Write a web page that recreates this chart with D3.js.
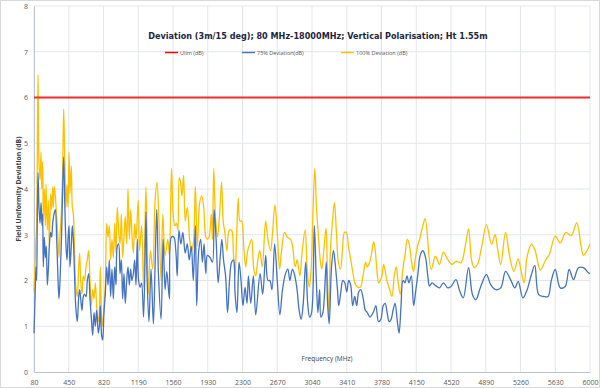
<!DOCTYPE html>
<html>
<head>
<meta charset="utf-8">
<script src="https://cdn.jsdelivr.net/npm/d3@7"></script>
<style>
  body { margin: 0; background: #fff; }
  text { font-family: "Open Sans", "Liberation Sans", sans-serif; }
</style>
</head>
<body>
<div id="chart"></div>
<script>
const title = 'Deviation (3m/15 deg); 80 MHz-18000MHz; Vertical Polarisation; Ht 1.55m';
const seriesNames = ['Ulim (dB)', '75% Deviation(dB)', '100% Deviation (dB)'];
const xTicks = [80, 450, 820, 1190, 1560, 1930, 2300, 2670, 3040, 3410, 3780, 4150, 4520, 4890, 5260, 5630, 6000];
const yTicks = [0, 1, 2, 3, 4, 5, 6, 7, 8];

const ulimFreq = [80, 6000];
const ulim = [6, 6];

const freq100 = [80, 91, 101, 108, 115, 123, 133, 144, 155, 162, 172, 179, 190, 201, 208, 222, 233, 243, 257, 268,
  279, 286, 296, 307, 321, 336, 346, 357, 371, 385, 396, 407, 421, 431, 442, 453, 463, 477, 488, 499,
  509, 524, 541, 556, 566, 577, 591, 605, 619, 634, 648, 662, 676, 690, 705, 719, 733, 747, 765, 776,
  786, 800, 811, 825, 839, 854, 868, 882, 896, 910, 925, 939, 953, 967, 981, 996, 1010, 1024, 1038, 1052,
  1067, 1081, 1095, 1109, 1123, 1138, 1152, 1166, 1190, 1204, 1226, 1247, 1272, 1297, 1319, 1344, 1369, 1390, 1412, 1433,
  1451, 1476, 1505, 1522, 1544, 1562, 1580, 1598, 1612, 1626, 1640, 1655, 1673, 1690, 1712, 1737, 1755, 1776, 1798, 1819,
  1844, 1866, 1887, 1909, 1926, 1944, 1969, 1980, 1994, 2012, 2034, 2055, 2077, 2094, 2112, 2134, 2159, 2184, 2202, 2220,
  2237, 2255, 2273, 2291, 2313, 2334, 2355, 2377, 2398, 2420, 2441, 2463, 2484, 2511, 2546, 2571, 2599, 2620, 2645, 2670,
  2695, 2716, 2748, 2776, 2812, 2833, 2861, 2882, 2911, 2936, 2967, 2989, 3010, 3031, 3052, 3070, 3088, 3109, 3130, 3144,
  3165, 3190, 3204, 3219, 3236, 3258, 3279, 3300, 3321, 3343, 3364, 3385, 3406, 3428, 3449, 3477, 3505, 3534, 3555, 3583,
  3612, 3626, 3654, 3679, 3697, 3714, 3732, 3750, 3767, 3785, 3803, 3838, 3867, 3891, 3916, 3937, 3955, 3980, 4008, 4033,
  4054, 4075, 4100, 4121, 4142, 4164, 4192, 4221, 4245, 4309, 4354, 4397, 4439, 4485, 4531, 4573, 4626, 4672, 4707, 4738,
  4767, 4802, 4848, 4897, 4953, 4989, 5017, 5049, 5101, 5144, 5190, 5235, 5267, 5299, 5331, 5376, 5412, 5471, 5531, 5567,
  5630, 5683, 5743, 5799, 5859, 5905, 5930, 5965, 6000];
const dev100 = [1.75, 2.3, 2.9, 3.25, 4.7, 6.5, 4.55, 4.2, 4.8, 4.0, 4.6, 3.3, 4.0, 3.2, 4.1, 3.1, 3.75, 2.75, 3.9, 3.55,
  4.05, 3.6, 4.05, 3.85, 3.4, 2.9, 2.5, 3.0, 3.45, 4.4, 5.75, 4.7, 3.6, 4.1, 3.6, 4.8, 3.9, 4.5, 3.6, 3.45,
  2.9, 1.9, 1.65, 2.3, 2.6, 2.0, 1.7, 2.1, 2.0, 2.3, 2.45, 2.65, 2.0, 1.45, 1.8, 1.6, 1.95, 1.45, 1.1, 1.3,
  2.3, 1.2, 1.0, 1.45, 1.9, 3.25, 2.95, 3.2, 2.45, 2.9, 2.5, 3.25, 2.6, 3.6, 3.1, 2.8, 3.45, 2.5, 2.95, 3.4,
  2.8, 4.0, 2.9, 3.55, 3.0, 2.6, 3.25, 2.9, 3.75, 2.65, 3.2, 1.85, 4.05, 1.7, 2.65, 2.25, 3.75, 4.15, 3.2, 2.0,
  3.45, 2.55, 2.9, 2.55, 4.45, 3.45, 3.2, 3.25, 3.1, 4.25, 4.15, 3.85, 4.3, 3.3, 3.6, 2.9, 2.65, 2.8, 4.05, 2.75,
  3.7, 3.85, 3.6, 2.95, 2.9, 2.95, 3.45, 2.9, 4.45, 3.4, 2.95, 3.4, 4.15, 3.3, 3.05, 2.65, 3.1, 3.1, 2.65, 2.1,
  2.95, 3.8, 3.3, 3.3, 2.75, 2.3, 2.65, 2.8, 2.9, 2.25, 2.1, 2.45, 2.65, 2.3, 3.3, 2.9, 2.65, 3.05, 3.65, 3.05,
  2.25, 2.65, 3.05, 2.95, 2.9, 2.75, 2.3, 2.45, 2.1, 2.65, 3.1, 2.25, 1.85, 2.25, 3.6, 4.45, 3.6, 2.95, 2.4, 2.25,
  2.65, 3.15, 2.1, 1.25, 2.65, 3.3, 3.7, 3.05, 2.4, 2.25, 2.65, 3.05, 3.05, 2.75, 2.5, 2.15, 1.9, 1.85, 1.85, 2.1,
  2.4, 2.3, 2.4, 2.65, 2.85, 2.65, 2.2, 1.95, 2.0, 2.1, 2.35, 2.0, 1.8, 1.65, 2.1, 2.3, 2.0, 1.7, 2.25, 2.6,
  2.9, 2.8, 2.4, 2.2, 2.5, 2.75, 2.95, 3.2, 3.35, 2.24, 2.53, 2.35, 2.62, 2.46, 2.35, 2.42, 2.39, 2.75, 3.13, 2.46,
  2.28, 2.35, 2.75, 3.22, 2.79, 3.0, 2.68, 2.35, 3.05, 2.53, 2.2, 2.47, 2.2, 1.95, 2.53, 2.79, 2.68, 2.23, 2.46, 2.57,
  2.97, 2.82, 3.05, 2.98, 3.26, 2.75, 2.55, 2.64, 2.79];

const freq75 = [80, 91, 101, 108, 115, 123, 133, 144, 155, 165, 172, 179, 190, 201, 211, 222, 233, 243, 257, 268,
  279, 293, 307, 321, 336, 346, 357, 371, 385, 396, 407, 421, 431, 442, 453, 463, 477, 488, 499, 509,
  524, 541, 556, 566, 577, 591, 605, 619, 634, 648, 662, 676, 690, 705, 719, 733, 747, 765, 776, 786,
  800, 811, 825, 839, 854, 868, 882, 896, 910, 925, 939, 953, 967, 981, 996, 1010, 1024, 1038, 1052, 1067,
  1081, 1095, 1109, 1123, 1138, 1152, 1166, 1180, 1194, 1211, 1226, 1247, 1272, 1283, 1304, 1326, 1351, 1369, 1387, 1405,
  1433, 1455, 1476, 1494, 1522, 1544, 1569, 1590, 1605, 1623, 1644, 1665, 1690, 1712, 1733, 1755, 1776, 1798, 1812, 1834,
  1855, 1873, 1891, 1909, 1926, 1955, 1980, 1998, 2019, 2041, 2062, 2080, 2098, 2120, 2141, 2162, 2184, 2205, 2220, 2241,
  2263, 2284, 2305, 2327, 2348, 2363, 2388, 2416, 2441, 2487, 2515, 2547, 2571, 2592, 2614, 2642, 2670, 2698, 2726, 2758,
  2783, 2804, 2832, 2857, 2881, 2903, 2924, 2945, 2973, 2994, 3015, 3036, 3065, 3086, 3103, 3121, 3135, 3156, 3170, 3192,
  3206, 3223, 3248, 3269, 3290, 3311, 3325, 3347, 3368, 3389, 3410, 3431, 3452, 3473, 3495, 3516, 3537, 3558, 3586, 3607,
  3629, 3657, 3692, 3720, 3748, 3773, 3798, 3819, 3840, 3861, 3882, 3903, 3925, 3946, 3967, 3988, 4009, 4030, 4051, 4073,
  4097, 4122, 4143, 4168, 4192, 4221, 4249, 4273, 4291, 4319, 4354, 4397, 4439, 4485, 4520, 4573, 4608, 4650, 4707, 4749,
  4784, 4837, 4897, 4943, 4996, 5049, 5101, 5154, 5200, 5235, 5285, 5331, 5376, 5412, 5454, 5507, 5553, 5588, 5630, 5683,
  5736, 5778, 5824, 5877, 5930, 5983, 6000];
const dev75 = [0.85, 1.6, 2.3, 2.0, 3.3, 4.35, 3.6, 3.25, 3.7, 3.2, 3.45, 2.3, 2.95, 2.5, 2.75, 1.9, 2.25, 2.75, 3.05, 2.95,
  3.25, 3.45, 3.55, 2.95, 2.0, 1.6, 2.0, 2.8, 4.0, 4.7, 3.75, 2.75, 2.45, 2.9, 3.2, 2.3, 2.75, 3.2, 2.9, 2.3,
  1.45, 1.1, 1.65, 1.8, 1.6, 1.35, 1.65, 1.7, 1.65, 2.0, 2.15, 1.6, 1.2, 0.8, 1.3, 1.0, 1.35, 0.85, 1.0, 1.45,
  0.8, 0.7, 1.3, 1.7, 2.3, 1.9, 2.45, 1.65, 2.25, 1.6, 2.3, 1.9, 2.75, 2.8, 2.15, 2.45, 1.6, 2.15, 1.5, 2.0,
  2.3, 1.9, 2.25, 2.0, 2.15, 2.45, 1.9, 2.9, 2.0, 1.85, 1.95, 1.2, 3.5, 2.15, 1.1, 2.25, 1.05, 2.3, 3.55, 2.15,
  1.15, 2.9, 1.8, 2.2, 1.6, 2.95, 2.95, 2.65, 2.1, 3.1, 2.8, 3.05, 2.6, 2.8, 2.45, 2.75, 2.0, 3.2, 1.45, 2.65,
  2.9, 2.4, 2.8, 2.15, 2.55, 2.5, 2.4, 3.55, 2.9, 1.95, 2.5, 2.9, 2.45, 2.1, 1.3, 2.0, 2.4, 2.45, 1.75, 1.3,
  2.4, 2.0, 1.45, 1.85, 1.5, 2.1, 1.5, 2.1, 1.25, 2.15, 1.7, 2.55, 2.0, 2.0, 1.8, 2.8, 2.0, 1.25, 1.8, 2.15,
  2.25, 2.0, 2.25, 2.1, 1.8, 1.35, 1.15, 1.45, 2.4, 1.5, 1.2, 1.3, 3.2, 2.0, 1.3, 1.8, 1.2, 1.3, 1.6, 2.4,
  1.5, 1.05, 2.3, 2.65, 2.3, 1.8, 1.45, 1.75, 2.0, 1.95, 1.75, 2.0, 1.9, 1.45, 1.65, 1.45, 1.75, 1.8, 1.6, 1.35,
  1.3, 1.2, 1.3, 1.45, 1.1, 1.15, 1.45, 1.5, 1.3, 1.1, 1.15, 1.35, 1.5, 1.15, 0.85, 1.45, 2.0, 1.95, 2.1, 1.95,
  2.1, 1.45, 1.75, 2.15, 2.55, 2.65, 2.5, 2.1, 1.88, 1.95, 1.89, 1.84, 1.95, 1.84, 1.87, 2.02, 1.8, 1.62, 2.28, 1.69,
  1.58, 1.87, 2.13, 1.91, 1.8, 1.84, 2.2, 2.02, 1.84, 1.98, 1.62, 1.8, 2.13, 2.33, 1.69, 1.65, 1.65, 2.0, 2.24, 1.84,
  1.87, 2.24, 2.02, 2.28, 2.28, 2.17, 2.15];

const width = 600;
const height = 388;
const margin = { top: 6, right: 10, bottom: 16, left: 34 };

const svg = d3.select('#chart')
  .append('svg')
  .attr('width', width)
  .attr('height', height);

// chart border
svg.append('rect')
  .attr('x', 0.5).attr('y', 0.5)
  .attr('width', width - 1).attr('height', height - 1)
  .attr('fill', 'none')
  .attr('stroke', '#d9d9d9');

const x = d3.scaleLinear()
  .domain([80, 6000])
  .range([margin.left, width - margin.right]);

const y = d3.scaleLinear()
  .domain([0, 8])
  .range([height - margin.bottom, margin.top]);

// gridlines
svg.append('g')
  .selectAll('line')
  .data(xTicks)
  .join('line')
  .attr('x1', d => x(d)).attr('x2', d => x(d))
  .attr('y1', y(0)).attr('y2', y(8))
  .attr('stroke', '#e4e6ee')
  .attr('stroke-width', 1);

svg.append('g')
  .selectAll('line')
  .data(yTicks.slice(1))
  .join('line')
  .attr('x1', x(80)).attr('x2', x(6000))
  .attr('y1', d => y(d)).attr('y2', d => y(d))
  .attr('stroke', '#e4e6ee')
  .attr('stroke-width', 1);

// axes
const xAxis = svg.append('g')
  .attr('transform', `translate(0, ${y(0)})`)
  .call(d3.axisBottom(x).tickValues(xTicks).tickSize(0).tickPadding(8).tickFormat(d3.format('d')));
xAxis.select('.domain').attr('stroke', '#bfc3d0');
xAxis.selectAll('text').attr('fill', '#595959').attr('font-size', 7);

const yAxis = svg.append('g')
  .attr('transform', `translate(${margin.left}, 0)`)
  .call(d3.axisLeft(y).tickValues(yTicks).tickSize(0).tickPadding(6));
yAxis.select('.domain').attr('stroke', '#bfc3d0');
yAxis.selectAll('text').attr('fill', '#595959').attr('font-size', 7);

// series
const line = d3.line()
  .x(d => x(d[0]))
  .y(d => y(d[1]))
  .curve(d3.curveCatmullRom.alpha(0.5));

svg.append('path')
  .datum(d3.zip(freq100, dev100))
  .attr('fill', 'none')
  .attr('stroke', '#ffc000')
  .attr('stroke-width', 1.3)
  .attr('d', line);

svg.append('path')
  .datum(d3.zip(freq75, dev75))
  .attr('fill', 'none')
  .attr('stroke', '#4472c4')
  .attr('stroke-width', 1.3)
  .attr('d', line);

svg.append('path')
  .datum(d3.zip(ulimFreq, ulim))
  .attr('fill', 'none')
  .attr('stroke', '#f42a2a')
  .attr('stroke-width', 2.2)
  .attr('d', d3.line().x(d => x(d[0])).y(d => y(d[1])));

// title, sized so it spans about the same width as the original
const titleText = svg.append('text')
  .attr('x', 318).attr('y', 39)
  .attr('text-anchor', 'middle')
  .attr('font-size', 13)
  .attr('font-weight', 600)
  .attr('fill', '#1c2640')
  .style('font-family', '"Liberation Sans Narrow", "DejaVu Sans Condensed", "Open Sans", sans-serif')
  .style('font-stretch', 'condensed')
  .text(title);
const tw = titleText.node().getComputedTextLength();
if (tw > 340) titleText.attr('font-size', 13 * 340 / tw);

// legend
const legendX = [165, 242, 341];
const legendColors = ['#ff0000', '#4472c4', '#ffc000'];
const legend = svg.append('g')
  .selectAll('g')
  .data(seriesNames)
  .join('g')
  .attr('transform', (d, i) => `translate(${legendX[i]}, 52.5)`);
legend.append('line')
  .attr('x1', 0).attr('x2', 13)
  .attr('stroke', (d, i) => legendColors[i])
  .attr('stroke-width', 1.5);
legend.append('text')
  .attr('x', 15).attr('y', 2)
  .attr('font-size', 5.5)
  .attr('fill', '#595959')
  .text(d => d);

// axis titles
svg.append('text')
  .attr('x', 327).attr('y', 361)
  .attr('text-anchor', 'middle')
  .attr('font-size', 6.5)
  .attr('fill', '#404040')
  .text('Frequency (MHz)');

svg.append('text')
  .attr('transform', `translate(21, ${y(4)}) rotate(-90)`)
  .attr('text-anchor', 'middle')
  .attr('font-size', 6.8)
  .attr('font-weight', 'bold')
  .attr('fill', '#404040')
  .text('Field Uniformity Deviation (dB)');
</script>
</body>
</html>
